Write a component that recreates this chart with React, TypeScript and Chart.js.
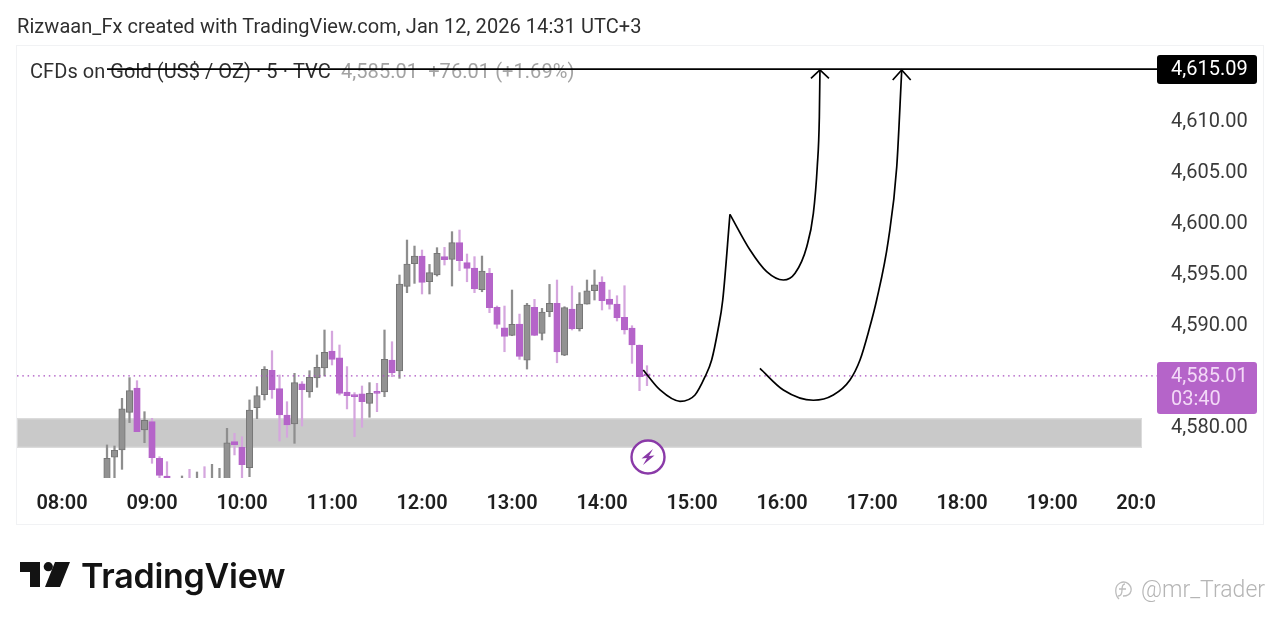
import React, { useEffect, useRef } from "react";
import { Chart, registerables } from "chart.js";

Chart.register(...registerables);

const candleMinutes = [510,515,520,525,530,535,540,545,550,555,560,565,570,575,580,585,590,595,600,605,610,615,620,625,630,635,640,645,650,655,660,665,670,675,680,685,690,695,700,705,710,715,720,725,730,735,740,745,750,755,760,765,770,775,780,785,790,795,800,805,810,815,820,825,830,835,840,845,850,855,860,865,870];
const opens = [4574.2,4577.03,4577.75,4581.44,4583.82,4579.71,4580.52,4576.93,4575.2,4574.3,4574.0,4574.6,4574.0,4574.7,4574.2,4574.3,4574.6,4578.56,4578.04,4576.01,4581.9,4583.17,4585.56,4583.76,4581.18,4580.29,4584.22,4583.43,4584.8,4585.78,4587.45,4586.77,4583.43,4583.11,4583.24,4582.32,4583.43,4583.43,4586.56,4585.49,4593.79,4596.01,4596.76,4594.24,4594.9,4596.7,4596.43,4598.07,4596.11,4595.58,4593.46,4595.06,4591.73,4589.73,4588.98,4590.09,4586.56,4591.73,4589.18,4591.3,4592.12,4587.05,4591.56,4589.64,4592.05,4593.36,4594.21,4592.54,4592.05,4590.75,4589.7,4588.04,4585.1];
const highs = [4578.24,4578.14,4582.81,4584.84,4584.54,4581.5,4580.85,4577.09,4576.6,4574.9,4575.2,4575.85,4575.59,4576.11,4576.34,4575.95,4579.87,4579.38,4579.05,4582.65,4583.95,4585.92,4587.48,4585.1,4582.48,4585.26,4584.45,4585.52,4587.06,4589.51,4589.4,4588.04,4585.92,4583.37,4584.02,4584.35,4584.28,4589.51,4588.36,4594.9,4598.33,4597.74,4597.35,4595.94,4597.58,4597.61,4599.15,4599.31,4596.96,4596.7,4596.76,4595.55,4591.86,4591.86,4593.43,4591.07,4592.12,4592.51,4591.63,4593.98,4594.41,4591.79,4593.82,4593.17,4594.41,4595.39,4594.73,4593.43,4592.87,4593.85,4589.93,4588.04,4586.01];
const lows = [4573.9,4574.6,4575.85,4580.43,4579.54,4578.46,4576.44,4574.9,4574.5,4574.0,4573.8,4573.9,4573.7,4573.9,4573.8,4574.0,4574.2,4577.26,4574.8,4575.13,4580.82,4582.65,4582.81,4578.63,4578.99,4578.4,4580.1,4582.91,4583.89,4585.0,4586.08,4583.14,4581.77,4579.05,4579.97,4580.95,4581.5,4582.97,4584.93,4584.77,4593.17,4594.08,4593.04,4593.04,4594.8,4595.88,4593.82,4595.32,4594.24,4593.17,4593.26,4591.21,4589.67,4587.38,4588.95,4586.63,4585.68,4588.95,4588.53,4590.81,4586.3,4586.99,4589.51,4589.41,4592.05,4592.45,4591.47,4591.56,4590.39,4589.11,4586.24,4583.56,4584.05];
const closes = [4576.93,4577.71,4581.77,4583.56,4579.54,4580.65,4576.99,4575.26,4574.95,4574.7,4574.6,4574.2,4574.6,4574.2,4574.7,4574.8,4578.46,4578.27,4576.31,4581.67,4583.07,4585.65,4583.66,4581.18,4580.2,4584.35,4583.66,4584.87,4585.85,4587.32,4586.63,4583.3,4583.07,4582.97,4582.48,4583.3,4583.3,4586.63,4585.32,4594.02,4595.98,4596.76,4594.18,4595.13,4597.02,4596.4,4598.07,4596.3,4595.55,4593.53,4595.29,4591.7,4590.06,4588.88,4590.06,4586.92,4591.96,4588.98,4591.27,4592.12,4587.35,4591.7,4589.64,4592.05,4593.36,4593.95,4592.38,4592.02,4590.71,4589.51,4588.04,4584.93,4585.01];

const priceTicks = [4580, 4590, 4595, 4600, 4605, 4610];
const timeTickValues = [480,540,600,660,720,780,840,900,960,1020,1080,1140,1196];
const timeTickLabels = ["08:00","09:00","10:00","11:00","12:00","13:00","14:00","15:00","16:00","17:00","18:00","19:00","20:0"];

const lastPrice = 4585.01;
const countdown = "03:40";
const targetPrice = 4615.09;
const targetStartMinute = 510;
const axisEndMinute = 1210;
const zoneTop = 4580.85;
const zoneBottom = 4577.97;
const zoneEndMinute = 1200;
const iconMinute = 870;
const iconPrice = 4577.06;

const swingAX = [867.5,878.7,892,902,908.7,913.1,917.3,920.5,925.3];
const swingAY = [4585.59,4583.63,4582.52,4583.14,4584.93,4586.57,4589.51,4592.45,4600.85];
const swingBX = [925.3,938.7,949.8,960.9,968.7,976.5,980.9,983.5,984.9,985.3];
const swingBY = [4600.85,4597.35,4595.23,4594.41,4595.07,4597.68,4600.95,4605.52,4610.42,4615];
const swingCX = [945.3,960.9,980.9,994.2,1005.3,1012,1018,1023.1,1030.9,1036.5,1039.8];
const swingCY = [4585.75,4583.63,4582.62,4583.14,4584.61,4586.57,4589.51,4592.45,4598.33,4605.52,4614.93];
const arrow1X = [979.3,985.3,991.3];
const arrow1Y = [4614.19,4615,4614.19];
const arrow2X = [1033.8,1039.8,1045.8];
const arrow2Y = [4614.02,4615,4614.02];

const GREY_BODY = "#929292";
const GREY_EDGE = "#767676";
const GREY_WICK = "#8e8e8e";
const PURPLE = "#b564c9";
const PURPLE_WICK = "#d5a6de";
const FONT = "Roboto";

const pts = (xs: number[], ys: number[]) => xs.map((x, i) => ({ x, y: ys[i] }));
const isUp = (i: number) => closes[i] >= opens[i];
const fmt = (v: number) => v.toLocaleString("en-US", { minimumFractionDigits: 2, maximumFractionDigits: 2 });

const drawLine = (label: string, data: { x: number; y: number }[], smooth: boolean, extra: any = {}) => ({
  type: "line" as const,
  label,
  data,
  borderColor: "#000",
  borderWidth: 1.7,
  pointRadius: 0,
  tension: 0,
  cubicInterpolationMode: smooth ? "monotone" : "default",
  order: 0,
  ...extra,
});

const overlay = {
  id: "overlay",
  beforeDraw(chart: any) {
    const { ctx } = chart;
    ctx.save();
    ctx.fillStyle = "#fff";
    ctx.fillRect(0, 0, chart.width, chart.height);
    ctx.strokeStyle = "#f1f2f4";
    ctx.lineWidth = 1;
    ctx.strokeRect(16.5, 45.5, 1247, 479);
    ctx.restore();
  },
  beforeDatasetsDraw(chart: any) {
    const { ctx, scales, chartArea } = chart;
    const top = scales.y.getPixelForValue(zoneTop);
    const bottom = scales.y.getPixelForValue(zoneBottom);
    const right = scales.x.getPixelForValue(zoneEndMinute);
    ctx.save();
    ctx.fillStyle = "#c9c9c9";
    ctx.fillRect(chartArea.left, top, right - chartArea.left, bottom - top);
    ctx.strokeStyle = "#dcdcdc";
    ctx.lineWidth = 1;
    ctx.strokeRect(chartArea.left + 0.5, top + 0.5, right - chartArea.left - 1, bottom - top - 1);
    ctx.textBaseline = "middle";
    ctx.textAlign = "left";
    ctx.font = `20px ${FONT}`;
    ctx.letterSpacing = "0.06px";
    ctx.fillStyle = "#2f2f2f";
    ctx.fillText("CFDs on Gold (US$ / OZ) · 5 · TVC", 30, 72.5);
    ctx.fillStyle = "#a3a3a3";
    ctx.fillText("4,585.01  +76.01 (+1.69%)", 341, 72.5);
    ctx.restore();
  },
  afterDraw(chart: any) {
    const { ctx, scales } = chart;
    ctx.save();
    const tag = (yTop: number, h: number, fill: string) => {
      ctx.fillStyle = fill;
      ctx.beginPath();
      ctx.roundRect(1157, yTop, 100, h, 3);
      ctx.fill();
    };
    ctx.textAlign = "left";
    ctx.textBaseline = "middle";
    ctx.font = `20px ${FONT}`;
    const ty = scales.y.getPixelForValue(targetPrice);
    tag(ty - 14, 29, "#000");
    ctx.fillStyle = "#fff";
    ctx.fillText(fmt(targetPrice), 1171, ty + 0.5);
    const ly = scales.y.getPixelForValue(lastPrice);
    tag(ly - 14, 52, PURPLE);
    ctx.fillStyle = "#f3d9f7";
    ctx.fillText(fmt(lastPrice), 1171, ly + 1);
    ctx.fillText(countdown, 1171, ly + 24);

    const cx = scales.x.getPixelForValue(iconMinute) + 1;
    const cy = scales.y.getPixelForValue(iconPrice);
    ctx.beginPath();
    ctx.arc(cx, cy, 16.5, 0, Math.PI * 2);
    ctx.fillStyle = "#fff";
    ctx.fill();
    ctx.strokeStyle = "#8a3aa8";
    ctx.lineWidth = 2.4;
    ctx.stroke();
    ctx.fillStyle = "#8a3aa8";
    ctx.beginPath();
    ctx.moveTo(cx + 5, cy - 8);
    ctx.lineTo(cx - 6.5, cy + 1.5);
    ctx.lineTo(cx - 1, cy + 1);
    ctx.lineTo(cx - 5, cy + 8);
    ctx.lineTo(cx + 6.5, cy - 1.5);
    ctx.lineTo(cx + 1, cy - 1);
    ctx.closePath();
    ctx.fill();
    ctx.restore();
  },
};

export default function App() {
  const ref = useRef<HTMLCanvasElement | null>(null);
  useEffect(() => {
    const chart = new Chart(ref.current as HTMLCanvasElement, {
      type: "bar",
      plugins: [overlay],
      data: {
        datasets: [
          drawLine("Target", pts([targetStartMinute, axisEndMinute], [targetPrice, targetPrice]), false, { borderWidth: 1.8 }),
          drawLine("Swing A", pts(swingAX, swingAY), true),
          drawLine("Swing B", pts(swingBX, swingBY), true),
          drawLine("Swing C", pts(swingCX, swingCY), true),
          drawLine("Arrow 1", pts(arrow1X, arrow1Y), false),
          drawLine("Arrow 2", pts(arrow2X, arrow2Y), false),
          drawLine("Last price", pts([450, axisEndMinute], [lastPrice, lastPrice]), false, {
            borderColor: "#a94fc0",
            borderWidth: 1.3,
            borderDash: [1.5, 3.8],
            order: 1,
          }),
          {
            type: "bar" as const,
            label: "Bodies",
            data: candleMinutes.map((x, i) => ({ x, y: [opens[i], closes[i]] })),
            grouped: false,
            barThickness: 6.5,
            minBarLength: 2,
            borderWidth: 1,
            borderSkipped: false,
            backgroundColor: (c: any) => (isUp(c.dataIndex) ? GREY_BODY : PURPLE),
            borderColor: (c: any) => (isUp(c.dataIndex) ? GREY_EDGE : PURPLE),
            order: 2,
          },
          {
            type: "bar" as const,
            label: "Wicks",
            data: candleMinutes.map((x, i) => ({ x, y: [lows[i], highs[i]] })),
            grouped: false,
            barThickness: 1.6,
            backgroundColor: (c: any) => (isUp(c.dataIndex) ? GREY_WICK : PURPLE_WICK),
            order: 3,
          },
        ] as any,
      },
      options: {
        animation: false,
        responsive: false,
        layout: { padding: { left: 17, top: 45, right: 16, bottom: 102 } },
        plugins: { legend: { display: false }, tooltip: { enabled: false } },
        scales: {
          x: {
            type: "linear",
            min: 450,
            max: axisEndMinute,
            offset: false,
            grid: { display: false },
            border: { display: false },
            afterBuildTicks: (s: any) => {
              s.ticks = timeTickValues.map((value) => ({ value }));
            },
            afterFit: (s: any) => {
              s.height = 46;
            },
            ticks: {
              autoSkip: false,
              maxRotation: 0,
              padding: 6,
              color: "#1f1f1f",
              font: { family: FONT, size: 20, weight: "600" },
              callback: (v: any) => timeTickLabels[timeTickValues.indexOf(Number(v))],
            },
          },
          y: {
            type: "linear",
            position: "right",
            min: 4575,
            max: 4617.45,
            grid: { display: false },
            border: { display: false },
            afterBuildTicks: (s: any) => {
              s.ticks = priceTicks.map((value) => ({ value }));
            },
            afterFit: (s: any) => {
              s.width = 107;
            },
            ticks: {
              autoSkip: false,
              padding: 6,
              labelOffset: 1,
              crossAlign: "near",
              color: "#3a3a3a",
              font: { family: FONT, size: 20 },
              callback: (v: any) => fmt(Number(v)),
            },
          },
        },
      } as any,
    });
    return () => chart.destroy();
  }, []);

  return (
    <div style={{ position: "relative", width: 1280, height: 626, overflow: "hidden", background: "#fff" }}>
      <style>{"body{margin:0}"}</style>
      <canvas ref={ref} width={1280} height={626} style={{ position: "absolute", left: 0, top: 0 }} />
      <div style={{ position: "absolute", left: 17, top: 14, font: `20px ${FONT}`, lineHeight: "24px", letterSpacing: "0.06px", color: "#2f2f2f", whiteSpace: "nowrap" }}>
        Rizwaan_Fx created with TradingView.com, Jan 12, 2026 14:31 UTC+3
      </div>
      <svg style={{ position: "absolute", left: 0, top: 540 }} width={80} height={60}>
        <path d="M20 22H40V47H30V32H20Z M55 22H70L60 47H45Z" fill="#131313" />
        <circle cx={48.3} cy={26.7} r={4.6} fill="#131313" />
      </svg>
      <div style={{ position: "absolute", left: 81, top: 555, font: `600 34px Inter`, lineHeight: "42px", letterSpacing: "-0.26px", color: "#131313", whiteSpace: "nowrap" }}>
        TradingView
      </div>
      <svg style={{ position: "absolute", left: 1112, top: 578 }} width={24} height={26} fill="none" stroke="#bdbdbd" strokeWidth={1.3}>
        <path d="M7 21C3 17 2 8 8 5C14 2 20 7 19 13C18 17 14 18 11 18" />
        <path d="M13 6C10 6 10 9 10 12C10 15 9 18 6 18M7 11H14" />
      </svg>
      <div style={{ position: "absolute", left: 1141, top: 576, font: `300 23px ${FONT}`, lineHeight: "28px", color: "#b5b5b5", whiteSpace: "nowrap" }}>
        @mr_Trader
      </div>
    </div>
  );
}
